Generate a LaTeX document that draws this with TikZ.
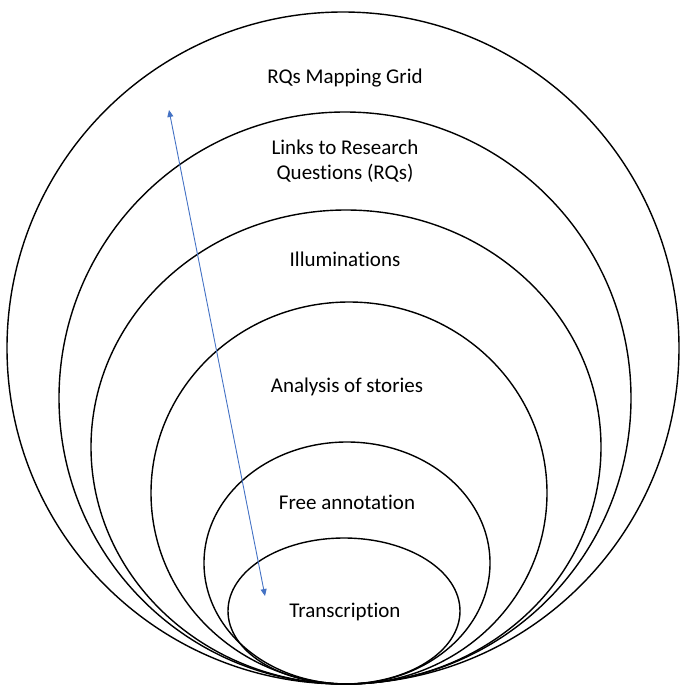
\documentclass[tikz,border=0pt]{standalone}
\usepackage{fontspec}
\setmainfont[Ligatures=NoCommon]{Carlito}
\usepackage{xcolor}
\usepackage{tikz}
\usetikzlibrary{arrows.meta}

\definecolor{linkblue}{RGB}{68,114,196}
\tikzset{
	ring/.style={draw=black, line width=1.4pt},
	lbl/.style={font=\fontsize{21}{25}\selectfont, align=center},
	link/.style={draw=linkblue, line width=0.9pt, {Triangle[length=7pt,width=6pt]}-{Triangle[length=7pt,width=6pt]}}
}

\begin{document}
\begin{tikzpicture}[x=1pt,y=-1pt]
	\newcommand\yb{684}
	\useasboundingbox (0,0) rectangle (680,688);

	\draw[ring] (343,\yb-336) ellipse [x radius=336, y radius=336]; % outer
	\draw[ring] (345,\yb-286) ellipse [x radius=286, y radius=286];
	\draw[ring] (346,\yb-237) ellipse [x radius=255, y radius=237];
	\draw[ring] (349,\yb-191) ellipse [x radius=198, y radius=191];
	\draw[ring] (347,\yb-121) ellipse [x radius=143, y radius=121];
	\draw[ring] (344,\yb-73) ellipse [x radius=116, y radius=73]; % inner

	\node[lbl] (grid) at (345,78) {RQs Mapping Grid};
	\node[lbl] (links) at (345,161) {Links to Research\\Questions (RQs)};
	\node[lbl] (illum) at (345,259) {Illuminations};
	\node[lbl] (stories) at (347,387) {Analysis of stories};
	\node[lbl] (free) at (347,502) {Free annotation};
	\node[lbl] (trans) at (345,612) {Transcription};

	\coordinate (up) at (169,110);
	\coordinate (down) at (265,596);
	\draw[link] (up) -- (down);
\end{tikzpicture}
\end{document}
